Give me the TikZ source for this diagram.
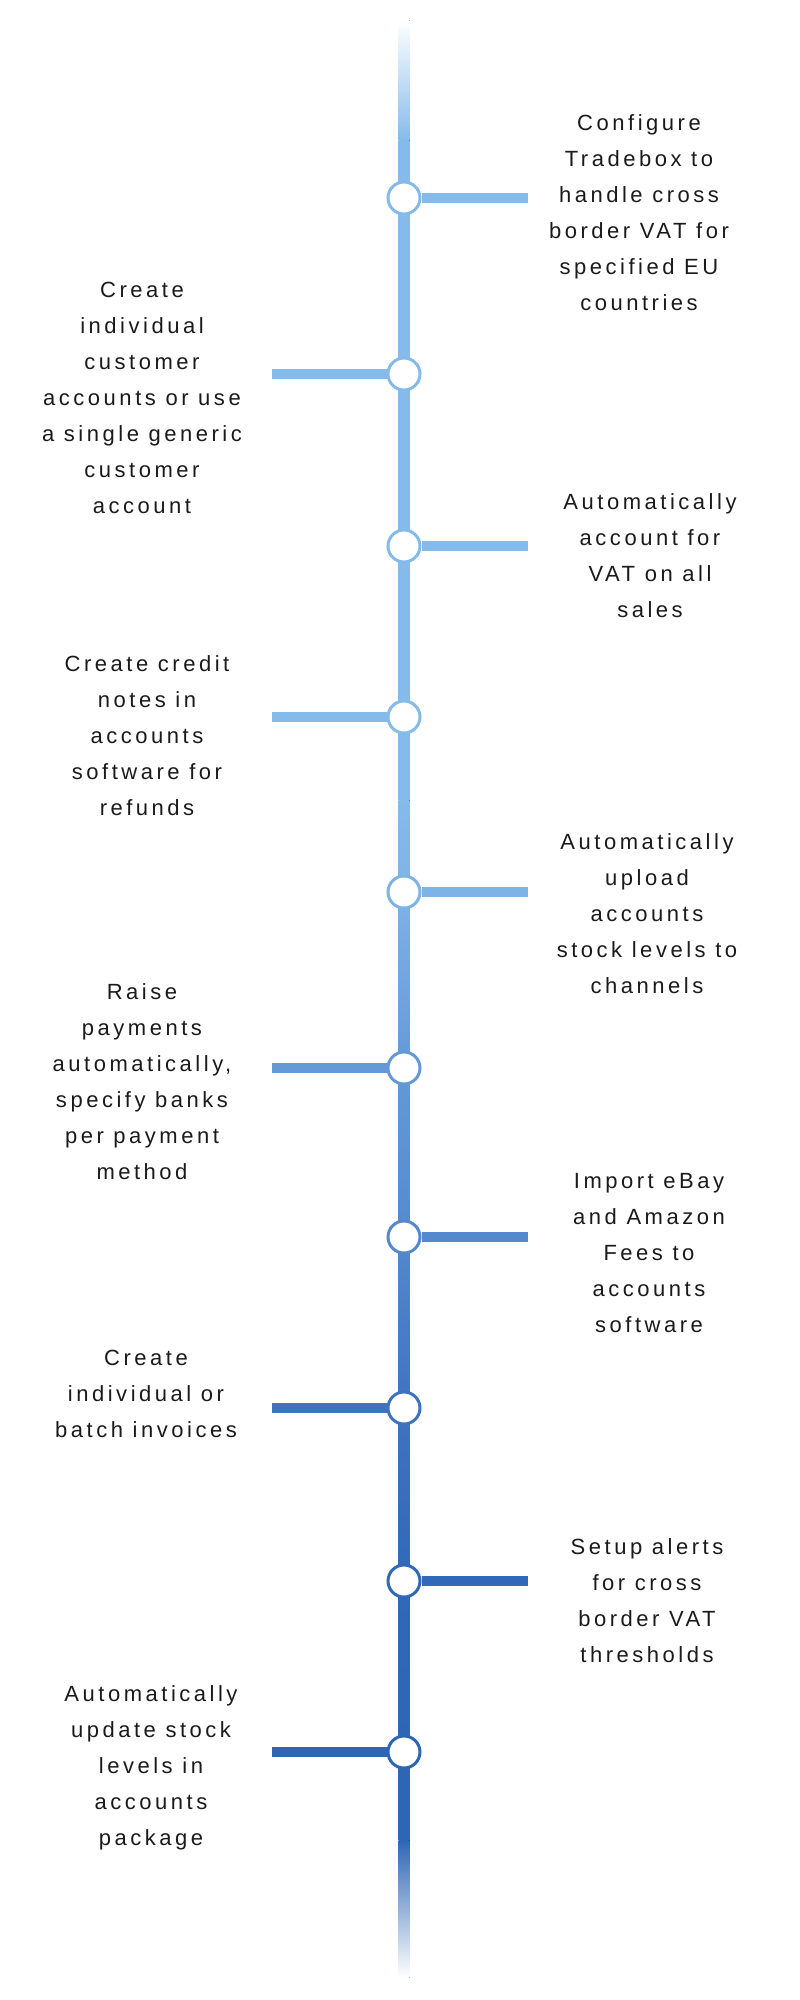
\documentclass[tikz,border=0pt]{standalone}
\usepackage{fontspec}
\setmainfont{Liberation Sans}[LetterSpace=16]
\definecolor{cA}{HTML}{85BBEB}
\definecolor{cB}{HTML}{7DB3E6}
\definecolor{cC}{HTML}{6499D8}
\definecolor{cD}{HTML}{5489CF}
\definecolor{cE}{HTML}{3F73C0}
\definecolor{cF}{HTML}{3169B8}
\definecolor{cG}{HTML}{2E66B5}
\definecolor{txt}{HTML}{1A1A1A}
\tikzset{
  dot/.style={circle, draw=#1, fill=white, line width=3pt, minimum size=32pt, inner sep=0pt},
  branch/.style={draw=#1, line width=10pt},
  label/.style={anchor=north, align=center, inner sep=0pt, text=txt, font=\fontsize{22}{36}\selectfont}
}
\begin{document}
\begin{tikzpicture}[x=1pt,y=1pt]
\useasboundingbox (0,0) rectangle (800,-2000);
% spine
\foreach \ya/\ca/\yb/\cb in {20/white/140/cA, 140/cA/800/cA, 800/cA/892/cB, 892/cB/1068/cC, 1068/cC/1237/cD, 1237/cD/1408/cE, 1408/cE/1581/cF, 1581/cF/1752/cG, 1752/cG/1840/cG, 1840/cG/1977/white}
  \fill[top color=\ca, bottom color=\cb] (398.5,-\ya) rectangle (409.5,-\yb-0.6);
% circles
\node[dot=cA] (c1) at (404,-198) {};
\node[dot=cA] (c2) at (404,-374) {};
\node[dot=cA] (c3) at (404,-546) {};
\node[dot=cA] (c4) at (404,-717) {};
\node[dot=cB] (c5) at (404,-892) {};
\node[dot=cC] (c6) at (404,-1068) {};
\node[dot=cD] (c7) at (404,-1237) {};
\node[dot=cE] (c8) at (404,-1408) {};
\node[dot=cF] (c9) at (404,-1581) {};
\node[dot=cG] (c10) at (404,-1752) {};
% branch ends
\coordinate (e1) at (528,-198);
\coordinate (e2) at (272,-374);
\coordinate (e3) at (528,-546);
\coordinate (e4) at (272,-717);
\coordinate (e5) at (528,-892);
\coordinate (e6) at (272,-1068);
\coordinate (e7) at (528,-1237);
\coordinate (e8) at (272,-1408);
\coordinate (e9) at (528,-1581);
\coordinate (e10) at (272,-1752);
\draw[branch=cA] (c1) -- (e1);
\draw[branch=cA] (c2) -- (e2);
\draw[branch=cA] (c3) -- (e3);
\draw[branch=cA] (c4) -- (e4);
\draw[branch=cB] (c5) -- (e5);
\draw[branch=cC] (c6) -- (e6);
\draw[branch=cD] (c7) -- (e7);
\draw[branch=cE] (c8) -- (e8);
\draw[branch=cF] (c9) -- (e9);
\draw[branch=cG] (c10) -- (e10);
% labels
\node[label] (t1) at (639,-114) {Configure\\Tradebox to\\handle cross\\border VAT for\\specified EU\\countries};
\node[label] (t2) at (142,-282) {Create\\individual\\customer\\accounts or use\\a single generic\\customer\\account};
\node[label] (t3) at (650,-493) {Automatically\\account for\\VAT on all\\sales};
\node[label] (t4) at (147,-655) {Create credit\\notes in\\accounts\\software for\\refunds};
\node[label] (t5) at (647,-833) {Automatically\\upload\\accounts\\stock levels to\\channels};
\node[label] (t6) at (142,-983) {Raise\\payments\\automatically,\\specify banks\\per payment\\method};
\node[label] (t7) at (649,-1173) {Import eBay\\and Amazon\\Fees to\\accounts\\software};
\node[label] (t8) at (146,-1350) {Create\\individual or\\batch invoices};
\node[label] (t9) at (647,-1538) {Setup alerts\\for cross\\border VAT\\thresholds};
\node[label] (t10) at (151,-1685) {Automatically\\update stock\\levels in\\accounts\\package};
\end{tikzpicture}
\end{document}
